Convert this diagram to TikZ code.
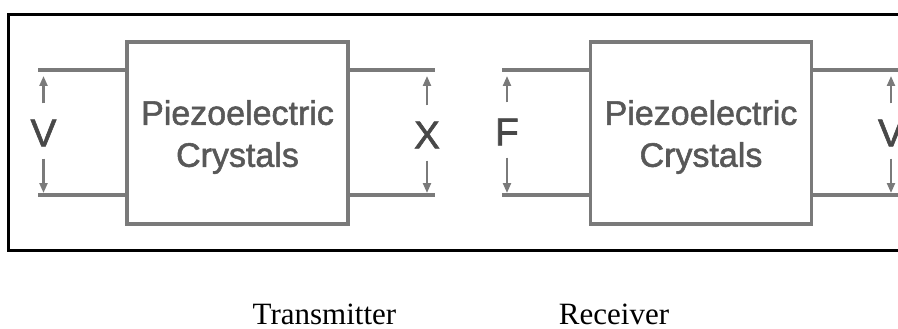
\documentclass[tikz,border=0pt]{standalone}
\usepackage{fontspec}
\setmainfont{Liberation Serif}
\newfontfamily\diagsans[BoldFont={Liberation Sans},BoldFeatures={FakeBold=1.6}]{Liberation Sans}
\usetikzlibrary{arrows.meta}
\definecolor{boxgray}{HTML}{7A7A7A}
\definecolor{txtgray}{HTML}{585858}
\definecolor{qtygray}{HTML}{484848}
\begin{document}
\begin{tikzpicture}[x=1pt,y=-1pt,
  crystal/.style={draw=boxgray, line width=3.5pt, minimum width=221pt, minimum height=182pt, inner sep=0pt},
  crystext/.style={text=txtgray, font=\diagsans\bfseries\fontsize{34}{42}\selectfont, align=center, inner sep=0pt},
  wire/.style={draw=boxgray, line width=3.2pt},
  varrow/.style={draw=boxgray, line width=2.2pt, -{Triangle[width=8pt,length=10pt]}},
  qty/.style={text=qtygray, font=\diagsans\bfseries\fontsize{39}{40}\selectfont, inner sep=0pt},
  caption/.style={font=\fontsize{31}{36}\selectfont, anchor=base, inner sep=0pt},
  frame/.style={draw=black, line width=3pt, line join=miter}
]
\clip (0,0) rectangle (898,329);
\useasboundingbox (0,0) rectangle (898,329);

% outer frame (open on the right)
\draw[frame] (905,15) -- (8,15) -- (8,250) -- (905,250);

% crystals
\node[crystal] (tx) at (237.5,133) {};
\node[crystext] (txt) at (237.5,137) {Piezoelectric\\Crystals};
\node[crystal] (rx) at (701,133) {};
\node[crystext] (rxt) at (701,137) {Piezoelectric\\Crystals};

% wire end points
\coordinate (a1) at (38,70);  \coordinate (a2) at (38,195);
\coordinate (b1) at (435,70); \coordinate (b2) at (435,195);
\coordinate (c1) at (502,70); \coordinate (c2) at (502,195);
\coordinate (d1) at (905,70); \coordinate (d2) at (905,195);

% wires
\draw[wire] (a1) -- (tx.west |- a1);
\draw[wire] (a2) -- (tx.west |- a2);
\draw[wire] (tx.east |- b1) -- (b1);
\draw[wire] (tx.east |- b2) -- (b2);
\draw[wire] (c1) -- (rx.west |- c1);
\draw[wire] (c2) -- (rx.west |- c2);
\draw[wire] (rx.east |- d1) -- (d1);
\draw[wire] (rx.east |- d2) -- (d2);

% quantities
\node[qty] (lv) at (43.5,133) {V};
\node[qty] (lx) at (427,135) {X};
\node[qty] (lf) at (507,132) {F};
\node[qty] (lw) at (891,133) {V};

% double arrows
\foreach \q in {lv,lx,lf,lw}{
  \draw[varrow, shorten >=6pt] ([yshift=16pt]\q.north) -- (\q.north |- a1);
  \draw[varrow, shorten >=2pt] ([yshift=-12pt]\q.south) -- (\q.south |- a2);
}

% captions
\node[caption] (tcap) at (324.5,324) {Transmitter};
\node[caption] (rcap) at (614,324) {Receiver};
\end{tikzpicture}
\end{document}
